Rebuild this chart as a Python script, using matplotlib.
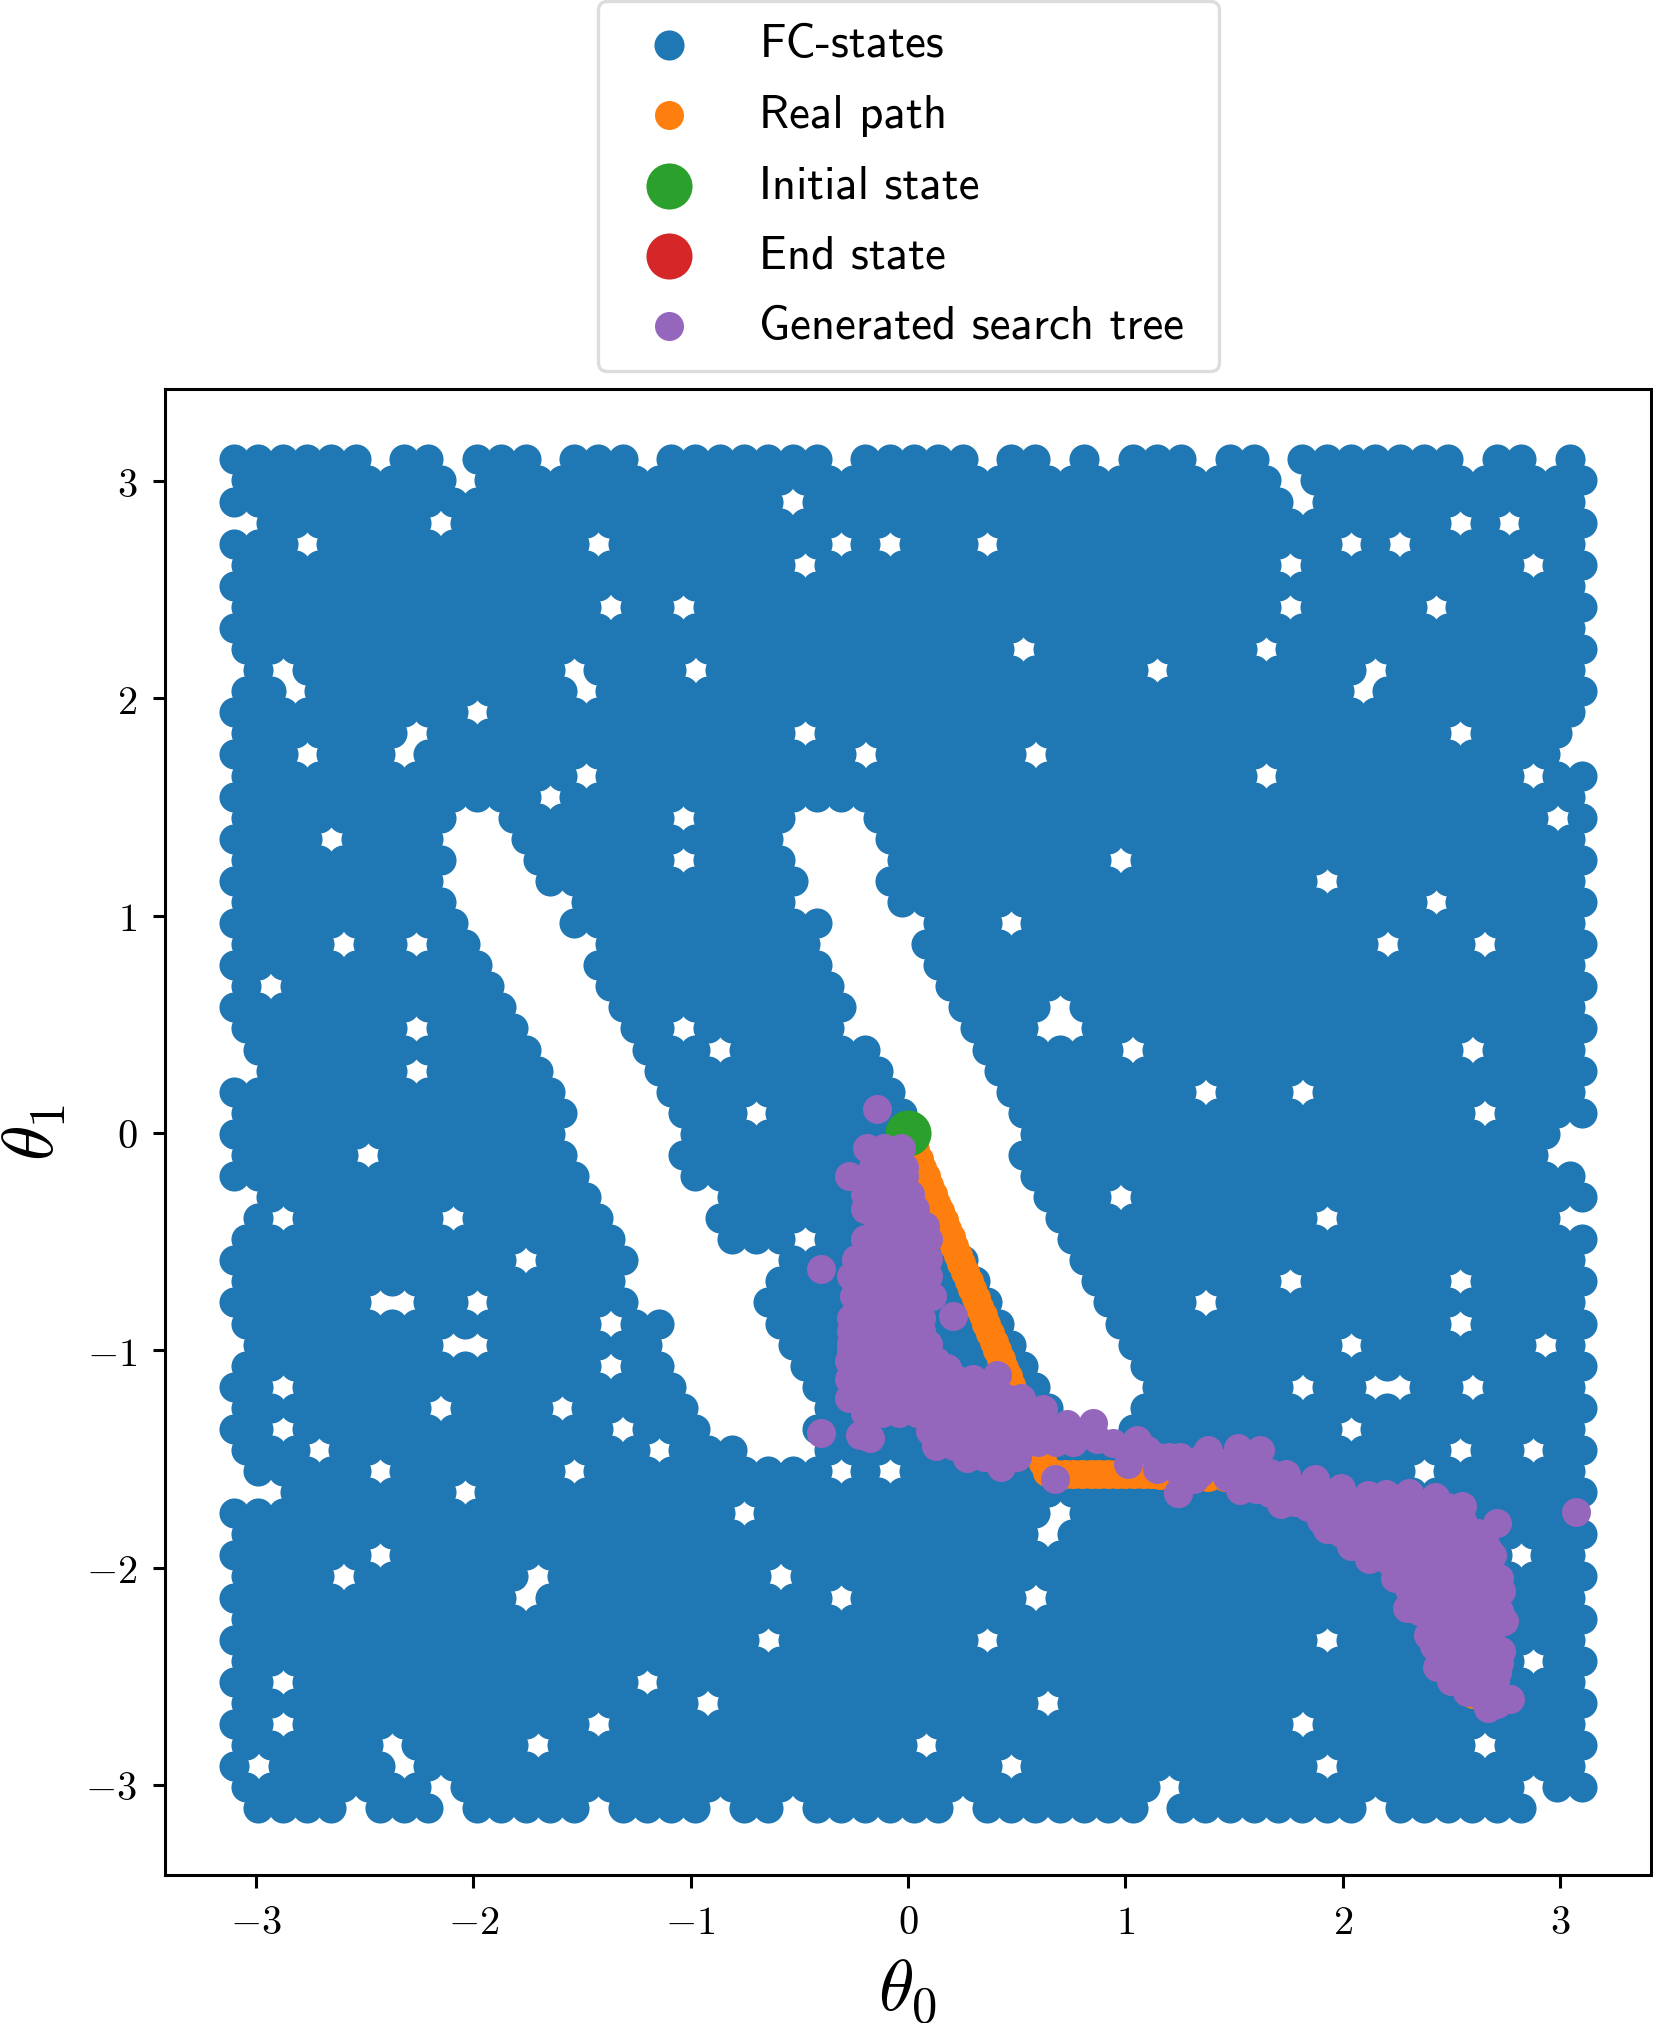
"""
Search tree over the two joint angles: FC-states, real path, start/end, tree
"""
import matplotlib
matplotlib.use('Agg')
import matplotlib.pyplot as plt

plt.rcParams['mathtext.fontset'] = 'cm'

# FC-states read off the picture as an occupancy map: one row per theta_1 level,
# '#' = a state seen there, '.' = a white gap. The points overlap too much to
# read singly, so their positions are quantised to this map's cells.
fc_rows = [
    "######.##. ###.###.## #####.#### #.##.#.### .##.###### #.##.#",
    "#########. ########## ########## ########## ###.###### ######",
    "########## ########## ###.###### ########## ####.##### ######",
    ".#######.# ########## ########## ########## ########## .#.###",
    "###.###### #####.#### #####.#.## #.######## ######.#.# ######",
    "########## ########## ###.###### ########## ###.###### ###.##",
    "########## ########## ########## ########## ########## ######",
    "########## #####.##.# ########## ########## ###.#####. ######",
    "########## ########## ########## ########## ########## ######",
    "########## ########## ########## ##.####### ##.####### ######",
    ".#.####### ####.####. ########## ########.# #######.## ######",
    "##.####### ####.##### ########## ########## ######.### ######",
    "########## .######### ########## ########## ########## ######",
    "#######.## ########## ###.###### ########## ########## .####.",
    "###.###.## ########## ######.### ###.###### ########## #####.",
    "########## ####.##### ########## ########## ##.####### ###.##",
    "########## ###.###### ########## ########## ########## ######",
    "#########. .#######.# ###...#### ########## ########## ####.#",
    "####.####. ..######## ###....### ########## ########## ######",
    "#########. ..######.# ###....### ######.### ########## ######",
    "#########. ...####### ####...### ########## #####.#### ######",
    "#########. ....###### ###....### ########## #########. ######",
    "########## ....###### #####....# ##.####### ########## ######",
    "####.##.## .....##### ####....## ########## #######.## #.####",
    "########## #....##### #####....# ########## ########## ######",
    "#.######## #....##### #####....# ########## ########## ######",
    "########## ##....#### ######.... ####.##### ########## ######",
    "#######.## ##....##.# #####..... ###..##### ########## ######",
    ".######### ###....### .######... .######.## ########## #.####",
    ".######.## ###....### #######... .######### ########## ######",
    "########## ####....## ########.. ..######## .###.##### ######",
    "########## ####....## #.######.. ..######## ########## #.####",
    "########## ####.....# #########. ...####### ########## #####.",
    "#####.#### ####....## ########.. ..######## ########## ####..",
    "########## #####....# #########. ...####### ########## ######",
    ".######### #####..... #########. ...###.### ########## ######",
    ".#.######. ######.... ########## ....###### #####.#### #####.",
    "########## ######.... ###.###### ....###### ########## ######",
    "########## ##.####... ...####### #....##### ########## ######",
    "########## ######.... ..######## #....##### ###.###### .#####",
    "######..## .######... ..######## ##....#### .######### ######",
    "########## #####.##.. ..######## ##....#### ########## .#####",
    ".########. .#######.. ...####### ###....### ######.### ####.#",
    "########## #####.##.. ...####### ###....### ########## ######",
    "##.####### #########. ....###### ####....## ####.##..# #.####",
    "########.# ###.#####. ....###### ####...### ########## ######",
    "##.####### ######.### ....###### #####..### ######.### ######",
    "###.###### #######.## #...###### ########## ########## .##.##",
    ".#####.### ####.##### #####.#.## ########## #########. ######",
    "..#######. ########## ########## ########## ########## ######",
    "########## ########## #.######## ####.##### ########## ######",
    "########## ########## ########## ###.###### ########## ######",
    "######.### ########## ########## ########## ########## ###.##",
    "####.##### ##.####### ##.####### ########## ########## ######",
    "########## ##.####### #####.#### ###.###### ########## ######",
    "########## ########## ########## ########## ########## ######",
    "########## ########## ##.####### #.######## #####.#### ######",
    "########## ########## ########## ########## ########## ###.##",
    "##.####### #######.## ########## ########## ########## ######",
    "########## #########. ########## ###.###### ########## ######",
    "##.####### #####.#### ########## ########## ####.##### ######",
    "######.### ##.####### ########.# ########## ########## #.####",
    "#.#####.## ########## ########## ##.####### #####.#### ######",
    "########.# ########## ########## ########.# ########## ###.##",
    ".####.###. #####.#### .##.###### .#######.# #######.## ####..",
]

real_x = [0.0, 0.016, 0.033, 0.049, 0.066, 0.082, 0.098, 0.115, 0.131, 0.148,
          0.164, 0.18, 0.197, 0.213, 0.23, 0.246, 0.262, 0.279, 0.295, 0.312,
          0.328, 0.344, 0.361, 0.377, 0.394, 0.41, 0.426, 0.443, 0.459, 0.476,
          0.492, 0.508, 0.525, 0.541, 0.558, 0.574, 0.59, 0.607, 0.623, 0.64,
          0.68, 0.72, 0.76, 0.8, 0.84, 0.88, 0.92, 0.96, 1.0, 1.04, 1.08, 1.12,
          1.16, 1.2, 1.24, 1.28, 1.32, 1.38, 1.46, 1.7, 1.9, 2.15, 2.3, 2.34, 2.45, 2.6]
real_y = [0.0, -0.04, -0.08, -0.12, -0.16, -0.2, -0.24, -0.28, -0.32, -0.36,
          -0.4, -0.44, -0.48, -0.52, -0.56, -0.6, -0.64, -0.68, -0.72, -0.76,
          -0.8, -0.84, -0.88, -0.92, -0.96, -1.0, -1.04, -1.08, -1.12, -1.16,
          -1.2, -1.24, -1.28, -1.32, -1.36, -1.4, -1.44, -1.48, -1.52, -1.56,
          -1.57, -1.57, -1.57, -1.57, -1.57, -1.57, -1.57, -1.57, -1.57, -1.57, -1.57, -1.57,
          -1.575, -1.575, -1.575, -1.58, -1.58, -1.585, -1.585, -1.63, -1.68, -1.8, -2.0, -2.08, -2.3, -2.58]

initial_x = [0.0]
initial_y = [0.0]
end_x = [2.6]
end_y = [-2.3]

tree_x = [-0.144, -0.40, -0.40, -0.22, -0.175, 0.208,
          -0.19, -0.11, -0.03, -0.16, -0.08, -0.02, -0.27, -0.17, -0.09, -0.02,
          -0.2, -0.12, -0.04, 0.01, -0.2, -0.12, -0.04, 0.03, -0.14, -0.06, 0.02, 0.08,
          -0.2, -0.12, -0.04, 0.04, 0.09, -0.24, -0.16, -0.08, 0.0, 0.09,
          -0.26, -0.18, -0.1, -0.02, 0.05, 0.09, -0.25, -0.17, -0.08, 0.0, 0.08, 0.11,
          -0.26, -0.18, -0.1, -0.02, 0.06, -0.26, -0.18, -0.1, -0.02, 0.06, 0.09,
          -0.27, -0.19, -0.11, -0.03, 0.05, 0.13, 0.18,
          -0.27, -0.18, -0.1, -0.02, 0.06, 0.14, 0.22, 0.3, 0.41,
          -0.27, -0.19, -0.11, -0.03, 0.05, 0.13, 0.21, 0.29, 0.37, 0.45, 0.52, 0.62,
          -0.2, -0.12, -0.04, 0.04, 0.12, 0.2, 0.28, 0.36, 0.44, 0.52, 0.6, 0.73,
          0.1, 0.18, 0.26, 0.34, 0.42, 0.5, 0.58, 0.66, 0.74, 0.85,
          0.13, 0.21, 0.29, 0.37, 0.45, 0.52, 0.6, 0.68, 0.76, 0.87,
          0.27, 0.43, 0.676, 0.945, 1.052, 1.014, 1.144, 1.144, 1.251, 1.358, 1.52, 1.435,
          1.251, 1.344, 1.466, 1.589, 1.665, 1.665, 1.244,
          1.737, 1.874, 1.99, 2.118, 2.307, 2.423, 2.55, 2.709, 3.074,
          1.61, 1.716, 1.526, 1.241, 1.315, 1.864, 1.927, 1.99, 2.107, 2.16, 2.287, 2.413,
          2.244, 2.307, 2.434, 2.56, 2.635, 2.688, 2.35, 2.476, 2.603, 2.297, 2.307,
          2.434, 2.56, 2.73, 2.667, 2.392, 2.497, 2.624, 2.74, 2.497, 2.624, 2.73, 2.434,
          2.56, 2.667, 2.709, 2.571, 2.667, 2.77, 2.709]
tree_y = [0.11, -0.626, -1.382, -1.39, -1.405, -0.842,
          -0.07, -0.07, -0.07, -0.155, -0.155, -0.155, -0.2, -0.2, -0.2, -0.2,
          -0.28, -0.28, -0.28, -0.28, -0.35, -0.35, -0.35, -0.35, -0.43, -0.43, -0.43, -0.43,
          -0.49, -0.49, -0.49, -0.49, -0.49, -0.58, -0.58, -0.58, -0.58, -0.58,
          -0.66, -0.66, -0.66, -0.66, -0.66, -0.66, -0.75, -0.75, -0.75, -0.75, -0.75, -0.75,
          -0.85, -0.85, -0.85, -0.85, -0.85, -0.97, -0.97, -0.97, -0.97, -0.97, -0.97,
          -1.05, -1.05, -1.05, -1.05, -1.05, -1.05, -1.08,
          -1.13, -1.13, -1.13, -1.13, -1.13, -1.13, -1.13, -1.13, -1.113,
          -1.22, -1.22, -1.22, -1.22, -1.22, -1.22, -1.22, -1.22, -1.22, -1.22, -1.22, -1.27,
          -1.29, -1.29, -1.29, -1.29, -1.29, -1.29, -1.29, -1.29, -1.29, -1.29, -1.29, -1.34,
          -1.37, -1.37, -1.37, -1.37, -1.37, -1.37, -1.37, -1.37, -1.37, -1.336,
          -1.44, -1.44, -1.44, -1.44, -1.44, -1.44, -1.42, -1.42, -1.42, -1.41,
          -1.497, -1.535, -1.594, -1.428, -1.413, -1.523, -1.489, -1.546, -1.489, -1.489, -1.451, -1.52,
          -1.566, -1.566, -1.581, -1.535, -1.566, -1.658, -1.658,
          -1.571, -1.592, -1.634, -1.666, -1.655, -1.676, -1.719, -1.793, -1.746,
          -1.613, -1.708, -1.645, -1.655, -1.592, -1.676, -1.824, -1.74, -1.888, -1.782, -1.782, -1.782,
          -1.993, -1.888, -1.888, -1.845, -1.94, -1.94, -2.014, -2.014, -2.014, -2.184, -2.099,
          -2.14, -2.14, -2.11, -2.099, -2.31, -2.268, -2.247, -2.247, -2.395, -2.374, -2.384, -2.458,
          -2.522, -2.5, -2.48, -2.574, -2.648, -2.606, -2.627]

# inside of the purple mass, where single tree points can't be told apart
tree_core_y = [-0.91, -1.0, -0.7, -0.8, -1.49, -1.46, -1.53, -1.57, -1.62, -1.64, -1.7,
               -1.66, -1.72, -1.78, -1.84, -1.9, -1.96, -2.05, -2.12, -2.2, -2.3,
               -2.36, -2.44, -2.52, -2.58]
tree_core_x = [
    [-0.26, -0.18, -0.1, -0.02, 0.06],
    [-0.26, -0.18, -0.1, -0.02, 0.06],
    [-0.22, -0.14, -0.06, 0.02],
    [-0.22, -0.14, -0.06, 0.02],
    [0.35, 0.5, 1.2],
    [1.1, 1.38, 1.62],
    [1.2, 1.3, 1.4, 1.5],
    [1.32, 1.56],
    [1.7, 1.88],
    [1.6, 1.8],
    [1.78],
    [1.8, 1.92, 2.0, 2.2],
    [1.84, 1.9, 2.0, 2.08, 2.16, 2.24, 2.32, 2.4, 2.48],
    [1.9, 1.95, 2.03, 2.09, 2.22, 2.35, 2.47, 2.55],
    [1.99, 2.06, 2.14, 2.22, 2.3, 2.38, 2.46, 2.52, 2.62],
    [2.04, 2.18, 2.24, 2.37, 2.5, 2.58, 2.66],
    [2.12, 2.2, 2.28, 2.36, 2.44, 2.52, 2.6],
    [2.24, 2.4, 2.45, 2.54, 2.66, 2.72],
    [2.36, 2.5, 2.62, 2.7],
    [2.35, 2.42, 2.5, 2.58, 2.66, 2.72],
    [2.45, 2.55, 2.68],
    [2.42, 2.56, 2.68],
    [2.5, 2.58, 2.66, 2.72],
    [2.5, 2.62, 2.7],
    [2.62, 2.68],
]

ticks = [-3, -2, -1, 0, 1, 2, 3]
tick_labels = [r'$-3$', r'$-2$', r'$-1$', r'$0$', r'$1$', r'$2$', r'$3$']

# map cell layout: rows are staggered by half a cell
fc_x = []
fc_y = []
for j, row in enumerate(fc_rows):
    for i, cell in enumerate(row.replace(' ', '')):
        if cell == '#':
            fc_x.append(-3.10 + 0.1117 * (i + 0.5 * (j % 2)))
            fc_y.append(3.10 - 0.097 * j)

for y, xs in zip(tree_core_y, tree_core_x):
    tree_x = tree_x + xs
    tree_y = tree_y + [y] * len(xs)

W, H = 1653, 2023
fig = plt.figure(figsize=(W / 100, H / 100), dpi=100)
ax = fig.add_axes([165 / W, 1 - 1875 / H, (1651 - 165) / W, (1875 - 389) / H])

small = 436
big = 1100
ax.scatter(fc_x, fc_y, s=470, color='#1f77b4', linewidths=0, label='FC-states')
ax.scatter(real_x, real_y, s=small, color='#ff7f0e', linewidths=0, label='Real path')
ax.scatter(initial_x, initial_y, s=big, color='#2ca02c', linewidths=0, label='Initial state')
ax.scatter(end_x, end_y, s=big, color='#d62728', linewidths=0, label='End state')
ax.scatter(tree_x, tree_y, s=small, color='#9467bd', linewidths=0, label='Generated search tree')

ax.set_xlim(-3.418, 3.418)
ax.set_ylim(-3.415, 3.424)
ax.set_xticks(ticks)
ax.set_xticklabels(tick_labels)
ax.set_yticks(ticks)
ax.set_yticklabels(tick_labels)
ax.tick_params(labelsize=29, width=2.2, length=9, pad=11)
for spine in ax.spines.values():
    spine.set_linewidth(2.2)

ax.set_xlabel(r'$\theta_0$', fontsize=52)
ax.set_ylabel(r'$\theta_1$', fontsize=52)
ax.xaxis.set_label_coords(0.5, -0.055)
ax.yaxis.set_label_coords(-0.065, 0.5)

leg = ax.legend(loc='upper left', bbox_to_anchor=(598 / W, 1 - 1 / H - 0.2, 621 / W, 0.2),
                bbox_transform=fig.transFigure, borderaxespad=0, mode='expand',
                prop={'family': 'cmss10', 'size': 33.7}, handlelength=2.05, handletextpad=0.9,
                borderpad=0.5, labelspacing=0.605, framealpha=0.8, edgecolor='#d4d4d4')
leg.get_frame().set_linewidth(2.4)

fig.savefig('out.png', dpi=100, facecolor='white')
